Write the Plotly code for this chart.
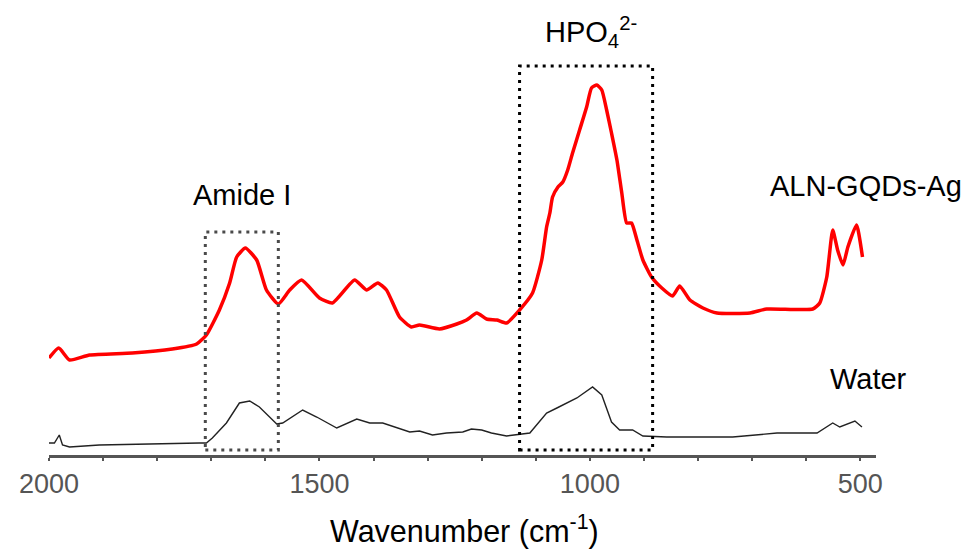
import plotly.graph_objects as go

# ALN-GQDs-Ag spectrum (wavenumber cm-1, intensity a.u.)
aln_wn = [2000, 1982, 1962, 1925, 1846, 1772, 1727, 1709, 1685, 1666, 1653, 1637, 1616, 1598,
          1576, 1555, 1533, 1500, 1476, 1435, 1413, 1392, 1376, 1352, 1330, 1315, 1278, 1246,
          1228, 1209, 1191, 1172, 1154, 1130, 1106, 1089, 1080, 1074, 1069, 1059, 1050, 1041,
          1032, 1019, 1006, 997, 987, 978, 969, 960, 950, 941, 932, 923, 913, 902, 886, 867,
          847, 834, 815, 791, 765, 704, 673, 588, 575, 562, 551, 542, 532, 523, 507, 496]
aln_int = [97, 107, 95, 100, 102, 106, 111, 120, 145, 172, 198, 207, 195, 165,
           151, 165, 175, 157, 152, 175, 165, 172, 165, 138, 128, 130, 126, 131,
           135, 142, 136, 135, 132, 145, 162, 195, 228, 242, 258, 268, 273, 285,
           302, 325, 348, 367, 370, 365, 345, 322, 295, 262, 232, 232, 215, 195, 178, 167,
           159, 169, 155, 147, 142, 142, 146, 146, 152, 178, 225, 205, 190, 208, 230, 198]

# Water spectrum
water_wn = [2000, 1990, 1981, 1975, 1962, 1907, 1722, 1709, 1698, 1672, 1648, 1629, 1611, 1579,
            1568, 1531, 1505, 1468, 1431, 1407, 1383, 1333, 1315, 1291, 1265, 1235, 1219, 1200,
            1182, 1154, 1111, 1080, 1061, 1024, 995, 978, 960, 945, 921, 902, 858, 736, 654,
            580, 551, 538, 510, 497]
water_int = [12, 12, 20, 10, 8, 10, 12, 12, 17, 32, 52, 54, 48, 31,
             32, 45, 38, 27, 36, 32, 32, 23, 24, 20, 22, 23, 26, 25,
             22, 19, 22, 42, 47, 57, 68, 60, 33, 25, 25, 19, 18, 18, 22,
             22, 32, 28, 34, 28]

# Highlighted regions: [wn_high, wn_low, int_low, int_high]
amide_box = [1711, 1576, 5, 223]
hpo4_box = [1130, 884, 5, 389]

tick_vals = [2000, 1500, 1000, 500]
x_range = [2000, 471]
y_range = [0, 445]
x_title = "Wavenumber (cm<sup>-1</sup>)"

FONT = "Liberation Sans, Arial, sans-serif"

fig = go.Figure()
fig.add_trace(go.Scatter(x=aln_wn, y=aln_int, mode="lines",
                         line=dict(color="#ff0000", width=3.5, shape="spline", smoothing=0.5),
                         name="ALN-GQDs-Ag"))
fig.add_trace(go.Scatter(x=water_wn, y=water_int, mode="lines",
                         line=dict(color="#222222", width=1.4), name="Water"))

for box, col in [(amide_box, "#4a4a4a"), (hpo4_box, "#000000")]:
    fig.add_shape(type="rect", xref="x", yref="y",
                  x0=box[0], x1=box[1], y0=box[2], y1=box[3],
                  line=dict(color=col, width=3, dash="3px,5px"))

ann_font = dict(family=FONT, size=29, color="#000000")
fig.add_annotation(x=1644, y=260, text="Amide I", showarrow=False,
                   xanchor="center", yanchor="middle", font=ann_font)
fig.add_annotation(x=1087, y=423, text="HPO<sub>4</sub><sup>2-</sup>", showarrow=False,
                   xanchor="left", yanchor="middle", font=ann_font)
fig.add_annotation(x=671, y=269, text="ALN-GQDs-Ag", showarrow=False,
                   xanchor="left", yanchor="middle", font=ann_font)
fig.add_annotation(x=560, y=76, text="Water", showarrow=False,
                   xanchor="left", yanchor="middle", font=ann_font)
# axis title
fig.add_annotation(x=0.5025, y=-0.167, xref="paper", yref="paper", text=x_title,
                   showarrow=False, xanchor="center", yanchor="middle",
                   font=dict(family=FONT, size=30.5, color="#000000"))

fig.update_layout(
    width=972, height=550,
    margin=dict(l=49, r=96, t=10, b=95),
    paper_bgcolor="white", plot_bgcolor="white",
    showlegend=False,
    font=dict(family=FONT),
    xaxis=dict(range=x_range, tickvals=tick_vals, ticks="outside", ticklen=3, tickwidth=2,
               tickcolor="#555555", showline=True, linecolor="#555555", linewidth=3,
               showgrid=False, zeroline=False,
               tickfont=dict(family=FONT, size=27, color="#555555"),
               minor=dict(dtick=100, tick0=0, ticks="outside", ticklen=3, tickwidth=2,
                          tickcolor="#555555", showgrid=False)),
    yaxis=dict(range=y_range, visible=False, showgrid=False, zeroline=False),
)

fig.write_html("out.html", config={"displayModeBar": False},
               post_script="document.body.style.margin='0';document.body.style.overflow='hidden';")
